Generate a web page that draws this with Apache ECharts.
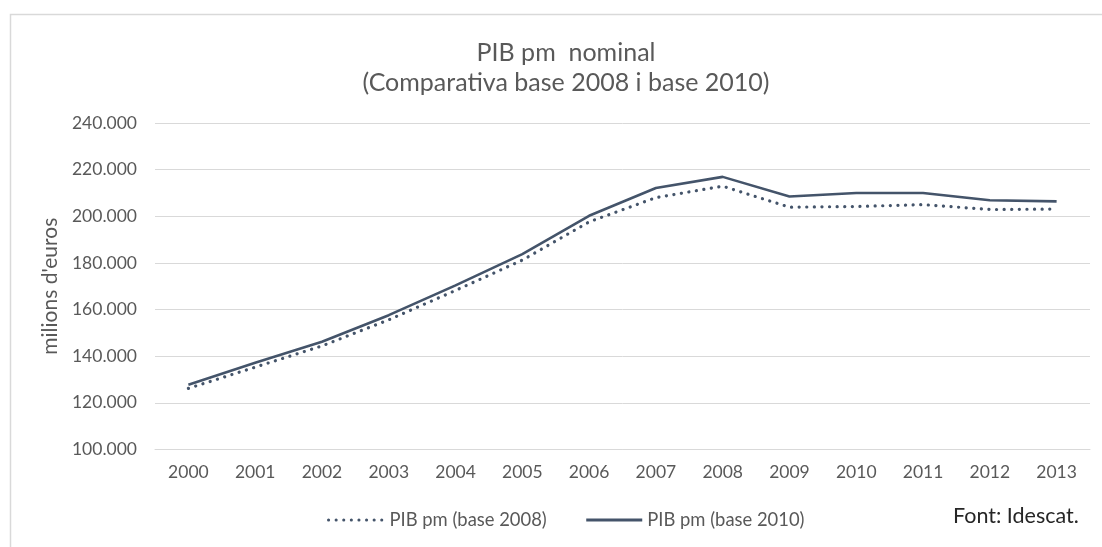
<!DOCTYPE html>
<html>
<head>
<meta charset="utf-8">
<script src="https://cdn.jsdelivr.net/npm/echarts@6/dist/echarts.min.js"></script>
<style>
html,body{margin:0;padding:0;background:#fff;}
#chart{width:1102px;height:547px;}
</style>
</head>
<body>
<div id="chart"></div>
<script>
const years = ['2000','2001','2002','2003','2004','2005','2006','2007','2008','2009','2010','2011','2012','2013'];
const base2008 = [126200,135300,144400,155600,168200,181200,197600,208000,212900,203900,204200,205000,202900,203100];
const base2010 = [127800,137200,146200,157600,170400,183800,200200,212100,216900,208500,210000,210000,206900,206400];
const seriesNames = ['PIB pm (base 2008)','PIB pm (base 2010)'];
const titleText = 'PIB pm  nominal\n(Comparativa base 2008 i base 2010)';
const yAxisName = "milions d'euros";
const sourceText = 'Font: Idescat.';

const FONT = 'Lato';
const LINE = '#44546A';
const TXT = '#595959';

function fmt(v){
  return String(Math.round(v)).replace(/\B(?=(\d{3})+(?!\d))/g, '.');
}

const chart = echarts.init(document.getElementById('chart'), null, {renderer:'canvas'});
chart.setOption({
  animation:false,
  backgroundColor:'#fff',
  textStyle:{fontFamily:FONT},
  title:{
    text:titleText,
    left:561, textAlign:'center', top:33,
    textStyle:{fontFamily:FONT, fontSize:25, fontWeight:'normal', color:TXT, lineHeight:30}
  },
  graphic:[
    {type:'rect', left:8, top:12, shape:{width:1200, height:600}, style:{fill:'none', stroke:'#d9d9d9', lineWidth:1.5}, silent:true, z:-1},
    {type:'text', left:953, top:505, style:{text:sourceText, fill:'#262626', font:'21.5px '+FONT}}
  ],
  legend:{
    left:322, top:506,
    itemWidth:56, itemHeight:14, itemGap:38,
    textStyle:{fontFamily:FONT, fontSize:18.4, color:TXT},
    itemStyle:{opacity:0},
    lineStyle:{width:3},
    data:seriesNames
  },
  grid:{left:155, right:12, top:123, bottom:97.5},
  xAxis:{
    type:'category', data:years, boundaryGap:true,
    axisLine:{show:true, lineStyle:{color:'#d9d9d9', width:1}},
    axisTick:{show:false},
    axisLabel:{fontFamily:FONT, fontSize:17.5, color:TXT, margin:14}
  },
  yAxis:{
    type:'value', min:100000, max:240000, interval:20000,
    name:yAxisName, nameLocation:'middle', nameGap:90, nameRotate:90,
    nameTextStyle:{fontFamily:FONT, fontSize:21, color:TXT},
    axisLine:{show:false}, axisTick:{show:false},
    axisLabel:{fontFamily:FONT, fontSize:17.5, color:TXT, margin:18, formatter:fmt},
    splitLine:{lineStyle:{color:'#d9d9d9', width:1}}
  },
  series:[
    {name:seriesNames[0], type:'line', data:base2008, symbol:'none', smooth:false,
     lineStyle:{color:LINE, width:3.2, type:[0.1,7.5], cap:'round'}, itemStyle:{color:LINE}},
    {name:seriesNames[1], type:'line', data:base2010, symbol:'none', smooth:false,
     lineStyle:{color:LINE, width:2.6, type:'solid'}, itemStyle:{color:LINE}}
  ]
});
</script>
</body>
</html>
